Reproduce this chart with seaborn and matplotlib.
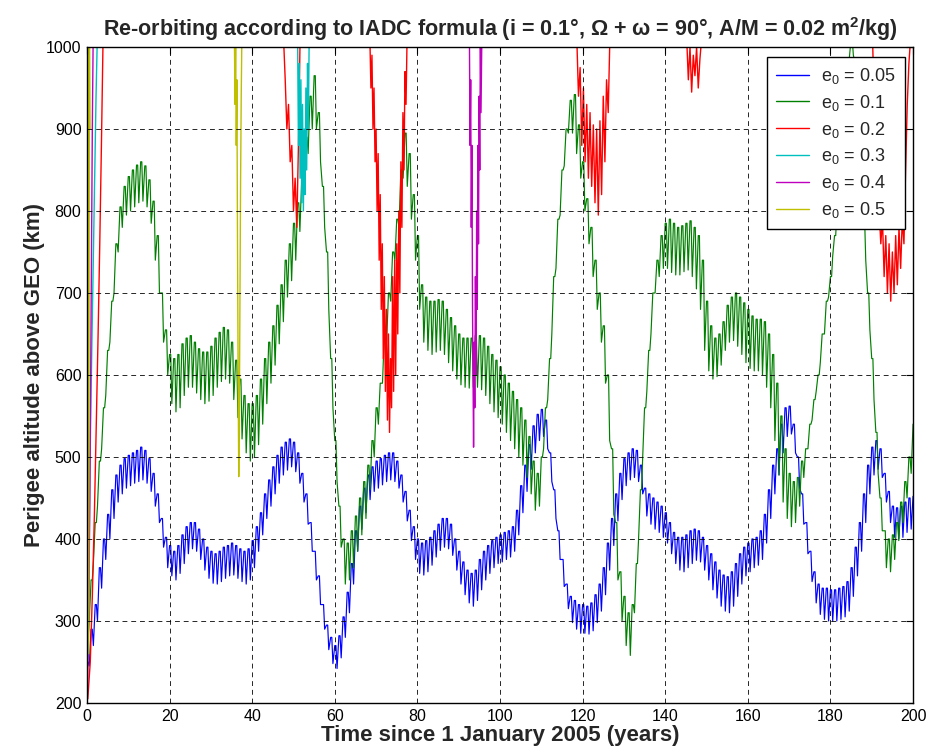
import numpy as np
import pandas as pd
import matplotlib
matplotlib.use("Agg")
import matplotlib.pyplot as plt
from matplotlib.lines import Line2D
import seaborn as sns

# ---------------------------------------------------------------------------
# Perigee altitude above GEO (km) over 200 years, one sample per year.
# "top" is the upper envelope of the yearly oscillation, "dip" the bottom of
# the downward spike within that year.
# ---------------------------------------------------------------------------
years = np.arange(0, 201)

blue_top = [
    250, 290, 320, 365, 400, 430, 460, 478, 490, 498,
    502, 505, 508, 512, 508, 498, 480, 455, 425, 402,
    392, 385, 392, 405, 415, 420, 420, 412, 400, 390,
    385, 382, 385, 390, 392, 395, 392, 388, 385, 388,
    398, 415, 432, 455, 472, 488, 502, 512, 518, 522,
    518, 505, 480, 455, 420, 385, 355, 320, 295, 280,
    270, 282, 305, 335, 370, 410, 440, 462, 478, 488,
    495, 498, 502, 505, 505, 495, 478, 458, 435, 415,
    400, 395, 398, 402, 410, 418, 425, 425, 418, 400,
    385, 372, 362, 358, 362, 375, 385, 392, 398, 402,
    405, 408, 410, 415, 435, 465, 490, 515, 538, 552,
    558, 545, 505, 460, 410, 375, 345, 330, 325, 320,
    320, 318, 322, 332, 345, 365, 395, 425, 455, 480,
    498, 505, 510, 508, 490, 462, 455, 450, 445, 440,
    432, 420, 408, 402, 402, 405, 410, 412, 410, 402,
    392, 382, 372, 362, 356, 354, 360, 370, 382, 390,
    395, 400, 402, 410, 430, 460, 490, 510, 540, 560,
    562, 540, 500, 455, 420, 385, 360, 345, 340, 340,
    338, 338, 340, 342, 348, 365, 390, 420, 455, 490,
    512, 520, 510, 480, 458, 440, 438, 440, 445, 450, 452,
]
blue_dip = [
    245, 270, 300, 340, 375, 400, 425, 445, 455, 462,
    465, 468, 470, 472, 468, 458, 440, 420, 390, 365,
    355, 350, 358, 370, 382, 388, 385, 375, 362, 352,
    346, 345, 348, 352, 355, 356, 352, 348, 345, 350,
    365, 385, 405, 425, 440, 455, 468, 478, 484, 488,
    482, 468, 445, 418, 385, 350, 320, 290, 265, 248,
    242, 255, 280, 310, 345, 385, 412, 432, 448, 458,
    462, 466, 470, 472, 470, 462, 445, 422, 398, 375,
    358, 356, 360, 368, 378, 386, 390, 388, 380, 362,
    345, 332, 322, 318, 325, 338, 350, 358, 365, 370,
    372, 375, 378, 385, 405, 432, 458, 485, 505, 520,
    525, 510, 470, 425, 375, 342, 315, 298, 290, 285,
    285, 284, 288, 298, 312, 332, 362, 392, 422, 448,
    465, 472, 475, 470, 455, 428, 418, 412, 408, 402,
    395, 382, 370, 362, 360, 365, 370, 374, 372, 362,
    350, 338, 328, 318, 312, 310, 318, 330, 345, 355,
    360, 365, 368, 375, 395, 425, 455, 478, 505, 525,
    528, 505, 462, 418, 382, 348, 322, 308, 302, 300,
    300, 300, 302, 305, 312, 330, 355, 385, 420, 455,
    478, 485, 475, 445, 420, 402, 400, 402, 408, 412, 415,
]

green_top = [
    280, 350, 420, 495, 560, 630, 690, 760, 805, 830,
    842, 850, 856, 860, 855, 838, 812, 770, 700, 655,
    625, 620, 625, 638, 645, 648, 640, 632, 628, 628,
    635, 645, 652, 658, 655, 640, 618, 595, 575, 565,
    565, 575, 595, 620, 640, 660, 685, 710, 740, 760,
    785, 810, 840, 890, 940, 965, 920, 830, 750, 620,
    520, 440, 400, 395, 410, 428, 450, 470, 490, 520,
    560, 590, 650, 700, 750, 790, 850, 895, 870, 820,
    770, 710, 695, 690, 690, 692, 690, 680, 670, 660,
    650, 645, 645, 645, 648, 648, 645, 635, 625, 618,
    610, 600, 590, 580, 570, 560, 545, 525, 495, 480,
    500, 560, 620, 720, 790, 850, 900, 935, 942, 905,
    860, 815, 780, 740, 700, 660, 600, 510, 420, 360,
    330, 310, 320, 370, 460, 560, 630, 700, 740, 770,
    785, 790, 785, 780, 782, 785, 788, 780, 770, 740,
    690, 660, 645, 650, 665, 685, 695, 700, 695, 688,
    680, 672, 668, 668, 665, 650, 625, 590, 550, 510,
    480, 470, 475, 495, 510, 540, 570, 600, 650, 690,
    720, 770, 830, 900, 970, 1010, 980, 880, 790, 700,
    620, 530, 450, 410, 400, 405, 420, 445, 470, 500, 540,
]
green_dip = [
    300, 370, 440, 510, 575, 640, 700, 750, 780, 795,
    800, 805, 810, 812, 805, 785, 740, 700, 640, 600,
    565, 555, 560, 575, 585, 585, 578, 570, 565, 568,
    575, 585, 592, 595, 590, 570, 548, 522, 505, 495,
    500, 515, 540, 565, 590, 612, 638, 665, 695, 715,
    740, 775, 820, 870, 900, 900, 860, 780, 680, 560,
    470, 390, 345, 350, 365, 385, 405, 425, 460, 500,
    540, 590, 640, 690, 740, 780, 840, 830, 790, 740,
    680, 640, 630, 625, 628, 630, 625, 615, 605, 595,
    588, 585, 584, 585, 585, 582, 575, 565, 555, 548,
    540, 530, 520, 510, 500, 490, 475, 455, 435, 440,
    510, 570, 650, 730, 795, 855, 895, 895, 870, 840,
    800, 760, 720, 680, 640, 590, 520, 430, 350, 300,
    270, 258, 310, 400, 500, 580, 650, 700, 720, 730,
    730, 725, 722, 722, 726, 728, 720, 705, 680, 630,
    605, 595, 598, 612, 630, 640, 642, 635, 625, 615,
    608, 605, 605, 600, 585, 560, 520, 478, 445, 425,
    415, 420, 440, 475, 510, 545, 580, 615, 650, 695,
    745, 800, 865, 935, 985, 990, 920, 830, 740, 655,
    570, 480, 410, 365, 360, 375, 398, 420, 450, 480, 510,
]

# Higher eccentricities only dip below 1000 km in short episodes.
red_t = [
    [0.2, 0.8, 1.3, 1.8, 2.3, 2.7, 3.1, 3.5, 3.9],
    [47.6, 48.0, 48.4, 48.8, 49.2, 49.6, 50.0, 50.4, 50.8, 51.2, 51.6],
    [68.5, 68.75, 69.0, 69.25, 69.5, 69.75, 70.0, 70.25, 70.5, 70.75, 71.0,
     71.25, 71.5, 71.75, 72.0, 72.25, 72.5, 72.75, 73.0, 73.25, 73.5, 73.75,
     74.0, 74.25, 74.5, 74.75, 75.0, 75.25, 75.5, 75.75, 76.0, 76.25, 76.5,
     76.75, 77.0, 77.25, 77.5],
    [118.6, 119.0, 119.4, 119.8, 120.2, 120.6, 121.0, 121.4, 121.8, 122.2,
     122.6, 123.0, 123.4, 123.8, 124.2, 124.6, 125.0, 125.4, 125.8, 126.2, 126.6],
    [145.2, 145.6, 146.0, 146.4, 146.8, 147.2, 147.6, 148.0, 148.4, 148.8],
    [190.2, 190.6, 191.0, 191.4, 191.8, 192.2, 192.6, 193.0, 193.4, 193.8,
     194.2, 194.6, 195.0, 195.4, 195.8, 196.2, 196.6, 197.0, 197.4, 197.8,
     198.2, 198.6, 199.0, 199.4],
]
red_alt = [
    [205, 250, 330, 430, 550, 650, 760, 880, 1010],
    [1010, 960, 900, 930, 860, 880, 800, 840, 780, 880, 1010],
    [1010, 950, 990, 900, 950, 860, 900, 800, 870, 740, 820,
     680, 760, 620, 720, 580, 680, 545, 650, 530, 620, 560,
     720, 580, 740, 600, 760, 650, 800, 700, 860, 780, 920,
     850, 970, 930, 1010],
    [1010, 940, 975, 880, 950, 860, 930, 840, 920, 830,
     905, 810, 900, 795, 910, 820, 940, 860, 960, 920, 1010],
    [1010, 960, 1000, 945, 990, 965, 1000, 950, 985, 1010],
    [1010, 930, 880, 820, 800, 760, 790, 720, 770, 700,
     760, 690, 750, 700, 770, 710, 780, 730, 790, 760,
     850, 930, 980, 1010],
]
cyan_t = [
    [0.1, 0.4, 0.7, 1.0, 1.4, 1.8, 2.2, 2.5],
    [51.0, 51.2, 51.4, 51.6, 51.8, 52.0, 52.2, 52.4, 52.6, 52.8, 53.0,
     53.2, 53.4, 53.6, 53.8, 54.0],
]
cyan_alt = [
    [245, 300, 480, 580, 700, 820, 940, 1010],
    [1010, 880, 980, 840, 960, 810, 930, 800, 900, 820, 950,
     850, 980, 900, 1010, 1010],
]
magenta_t = [
    [0.1, 0.4, 0.7, 0.9, 1.1, 1.3, 1.5],
    [92.6, 92.75, 92.9, 93.05, 93.2, 93.35, 93.5, 93.6, 93.75, 93.9, 94.05,
     94.2, 94.35, 94.5, 94.65, 94.8, 94.95, 95.1, 95.25, 95.4, 95.6],
]
magenta_alt = [
    [210, 300, 450, 600, 750, 900, 1010],
    [1010, 880, 960, 780, 880, 680, 580, 512, 640, 560, 720,
     600, 800, 680, 880, 760, 940, 850, 1010, 920, 1010],
]
yellow_t = [
    [0.05, 0.25, 0.4, 0.6, 0.75],
    [35.7, 35.85, 36.0, 36.15, 36.3, 36.45, 36.6, 36.75, 36.9, 37.05, 37.2, 37.35, 37.5],
]
yellow_alt = [
    [200, 1010, 260, 1010, 900],
    [1010, 930, 1010, 880, 960, 760, 600, 476, 560, 700, 840, 940, 1010],
]

labels = ["e$_0$ = 0.05", "e$_0$ = 0.1", "e$_0$ = 0.2",
          "e$_0$ = 0.3", "e$_0$ = 0.4", "e$_0$ = 0.5"]
colors = ["#0000ff", "#008000", "#ff0000", "#00bfbf", "#bf00bf", "#bfbf00"]

# ---------------------------------------------------------------------------
sns.set_style("white")
plt.rcParams["font.family"] = ["Liberation Sans", "DejaVu Sans"]
plt.rcParams["mathtext.fontset"] = "custom"
plt.rcParams["mathtext.rm"] = "Liberation Sans"
plt.rcParams["mathtext.it"] = "Liberation Sans:italic"
plt.rcParams["mathtext.bf"] = "Liberation Sans:bold"

fig = plt.figure(figsize=(9.33, 7.52), dpi=100)
ax = fig.add_axes([0.0932, 0.0652, 0.8854, 0.8723])


def sawtooth(top, dip):
    """Yearly cycle: envelope top, then a spike down in mid-year."""
    n = len(years)
    t = np.empty(3 * n)
    v = np.empty(3 * n)
    t[0::3] = years
    t[1::3] = years + 0.28
    t[2::3] = years + 0.55
    v[0::3] = top
    v[1::3] = top
    v[2::3] = dip
    return pd.DataFrame({"t": t, "alt": v})


lw = 0.85
for top, dip, c in [(blue_top, blue_dip, colors[0]), (green_top, green_dip, colors[1])]:
    df = sawtooth(top, dip)
    sns.lineplot(data=df, x="t", y="alt", color=c, lw=lw, ax=ax,
                 sort=False, estimator=None)

for ts, vs, c in [(red_t, red_alt, colors[2]), (cyan_t, cyan_alt, colors[3]),
                  (magenta_t, magenta_alt, colors[4]), (yellow_t, yellow_alt, colors[5])]:
    for t, v in zip(ts, vs):
        seg = pd.DataFrame({"t": t, "alt": v})
        sns.lineplot(data=seg, x="t", y="alt", color=c, lw=1.0, ax=ax,
                     sort=False, estimator=None)

ax.set_xlim(0, 200)
ax.set_ylim(200, 1000)
ax.set_xticks(np.arange(0, 201, 20))
ax.set_yticks(np.arange(200, 1001, 100))
ax.grid(True, color="black", linestyle=(0, (5, 4)), linewidth=0.7, alpha=0.85)
ax.set_axisbelow(False)
ax.tick_params(direction="in", top=True, right=True, length=5, width=0.8,
               labelsize=11.5, colors="black", pad=4)
for s in ax.spines.values():
    s.set_visible(True)
    s.set_color("black")
    s.set_linewidth(1.0)

ax.set_title("Re-orbiting according to IADC formula (i = 0.1°, Ω + ω = 90°, "
             "A/M = 0.02 m$^\\mathbf{2}$/kg)", fontsize=15.5, fontweight="bold", pad=8)
ax.set_xlabel("Time since 1 January 2005 (years)", fontsize=16, fontweight="bold", labelpad=1)
ax.set_ylabel("Perigee altitude above GEO (km)", fontsize=16, fontweight="bold", labelpad=1)

handles = [Line2D([0], [0], color=c, lw=1.0) for c in colors]
leg = ax.legend(handles, labels, loc="upper right", bbox_to_anchor=(0.99, 0.985),
                borderaxespad=0, fontsize=13, frameon=True, fancybox=False,
                edgecolor="black", framealpha=1, handlelength=1.8,
                labelspacing=0.38, borderpad=0.5, handletextpad=0.7)
leg.get_frame().set_linewidth(1.0)

fig.savefig("out.png", dpi=100)
